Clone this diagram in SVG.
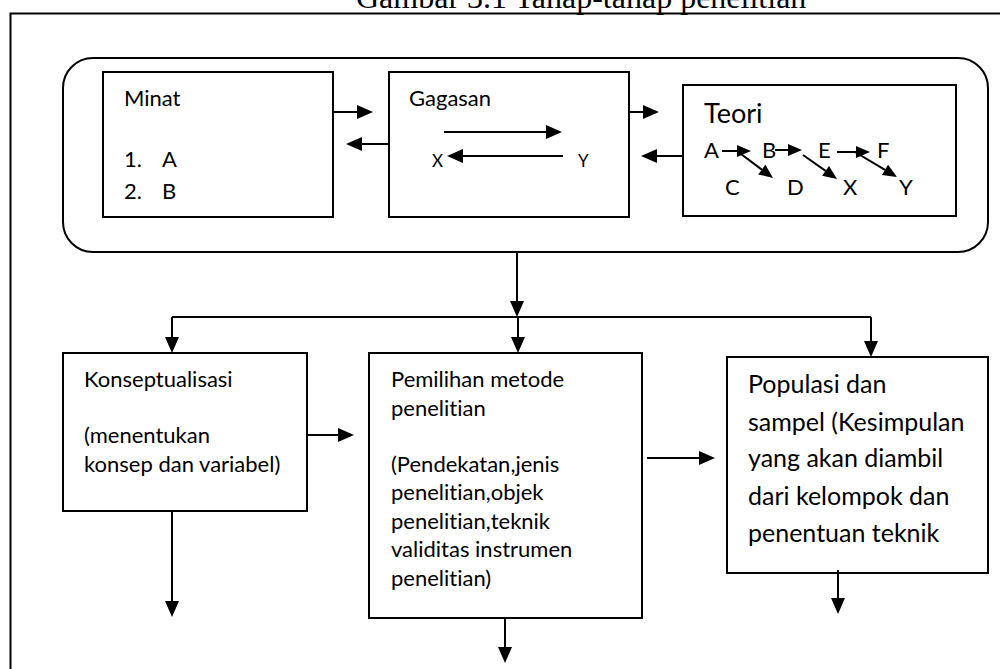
<svg xmlns="http://www.w3.org/2000/svg" width="1000" height="669" viewBox="0 0 1000 669">
<defs>
<style>
.b{fill:#fff;stroke:#000;stroke-width:2}
.c{fill:none;stroke:#000;stroke-width:2}
.t{font-family:Lato,"Open Sans",sans-serif;font-size:22px;fill:#000;font-variant-ligatures:none}
.s{font-size:17px}
.p{font-size:25px}
.h{font-size:27px}
.title{font-family:"Liberation Serif","Times New Roman",serif;font-size:32px;fill:#000}
</style>
<marker id="a" markerUnits="userSpaceOnUse" viewBox="0 -7 16 14" refX="0" refY="0" markerWidth="16" markerHeight="14" orient="auto" overflow="visible">
<path d="M0,-7 L16,0 L0,7 Z" fill="#000"/>
</marker>
<marker id="m" markerUnits="userSpaceOnUse" viewBox="0 -6 14 12" refX="0" refY="0" markerWidth="14" markerHeight="12" orient="auto" overflow="visible">
<path d="M0,-6 L14,0 L0,6 Z" fill="#000"/>
</marker>
</defs>
<rect width="1000" height="669" fill="#fff"/>
<text class="title" x="356" y="8">Gambar 3.1 Tahap-tahap penelitian</text>
<path class="c" d="M1002,13.5 H10.5 V672"/>

<g id="tahap-awal">
<rect class="b" x="63" y="58" width="925" height="194" rx="30" ry="30"/>
</g>
<g id="minat">
<rect class="b" x="103" y="72" width="230" height="145"/>
<text class="t" x="124" y="106">Minat</text>
<text class="t" x="124" y="167">1.</text><text class="t" x="162" y="167">A</text>
<text class="t" x="124" y="199">2.</text><text class="t" x="162" y="199">B</text>
</g>
<g id="gagasan">
<rect class="b" x="389" y="72" width="240" height="145"/>
<text class="t" x="409" y="106">Gagasan</text>
<text class="t s" x="432" y="167">X</text>
<text class="t s" x="578" y="167">Y</text>
</g>
<g id="teori">
<rect class="b" x="683" y="85" width="273" height="131"/>
<text class="t h" x="704" y="123">Teori</text>
<text class="t" x="704" y="158">A</text>
<text class="t" x="762" y="158">B</text>
<text class="t" x="818" y="158">E</text>
<text class="t" x="877" y="158">F</text>
<text class="t" x="725" y="195">C</text>
<text class="t" x="787" y="195">D</text>
<text class="t" x="843" y="195">X</text>
<text class="t" x="899" y="195">Y</text>
</g>
<g id="konseptualisasi">
<rect class="b" x="63" y="353" width="244" height="158"/>
<text class="t" x="84" y="387">Konseptualisasi</text>
<text class="t" x="84" y="443">(menentukan</text>
<text class="t" x="84" y="472">konsep dan variabel)</text>
</g>
<g id="pemilihan-metode">
<rect class="b" x="369" y="353" width="273" height="265"/>
<text class="t" x="391" y="387">Pemilihan metode</text>
<text class="t" x="391" y="416">penelitian</text>
<text class="t" x="391" y="472">(Pendekatan,jenis</text>
<text class="t" x="391" y="500">penelitian,objek</text>
<text class="t" x="391" y="529">penelitian,teknik</text>
<text class="t" x="391" y="557">validitas instrumen</text>
<text class="t" x="391" y="586">penelitian)</text>
</g>
<g id="populasi-sampel">
<rect class="b" x="727" y="357" width="261" height="216"/>
<text class="t p" x="748" y="393">Populasi dan</text>
<text class="t p" x="748" y="431">sampel (Kesimpulan</text>
<text class="t p" x="748" y="467">yang akan diambil</text>
<text class="t p" x="748" y="505">dari kelompok dan</text>
<text class="t p" x="748" y="542">penentuan teknik</text>
</g>

<g id="connectors">
<path class="c" marker-end="url(#a)" d="M333,112 H357"/>
<path class="c" marker-end="url(#a)" d="M389,144 H362"/>
<path class="c" marker-end="url(#a)" d="M444,132 H546"/>
<path class="c" marker-end="url(#a)" d="M563,156 H463"/>
<path class="c" marker-end="url(#a)" d="M629,112 H643"/>
<path class="c" marker-end="url(#a)" d="M683,156 H657"/>
<path class="c" marker-end="url(#m)" d="M722,151 H737"/>
<path class="c" marker-end="url(#m)" d="M737,151 L761.8,169.6"/>
<path class="c" marker-end="url(#m)" d="M775,150 H788"/>
<path class="c" marker-end="url(#m)" d="M803,155 L825.6,170.9"/>
<path class="c" marker-end="url(#m)" d="M837,152 H856"/>
<path class="c" marker-end="url(#m)" d="M855,152 L885,169.8"/>
<path class="c" marker-end="url(#a)" d="M517,252 V301"/>
<path class="c" d="M172,317 H871"/>
<path class="c" marker-end="url(#a)" d="M172,317 V337"/>
<path class="c" marker-end="url(#a)" d="M518,317 V337"/>
<path class="c" marker-end="url(#a)" d="M871,317 V341"/>
<path class="c" marker-end="url(#a)" d="M307,435 H338"/>
<path class="c" marker-end="url(#a)" d="M647,458 H699"/>
<path class="c" marker-end="url(#a)" d="M172,511 V601"/>
<path class="c" marker-end="url(#a)" d="M505,618 V647"/>
<path class="c" marker-end="url(#a)" d="M838,570 V598"/>
</g>
</svg>
